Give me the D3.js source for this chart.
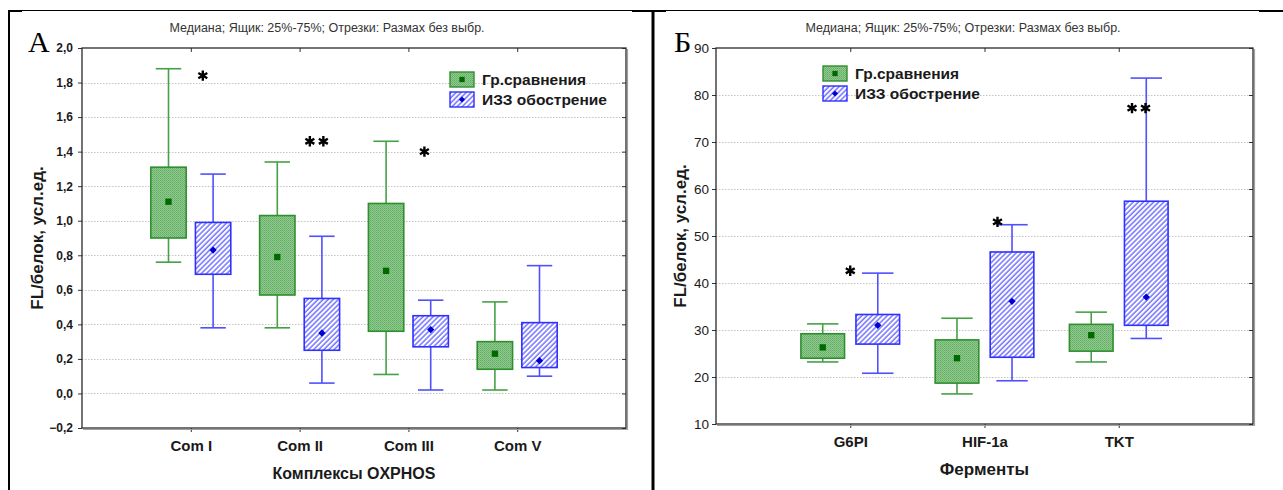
<!DOCTYPE html>
<html>
<head>
<meta charset="utf-8">
<script src="https://cdn.jsdelivr.net/npm/d3@7"></script>
<style>
  body { margin: 0; background: #fff; }
  svg { display: block; font-family: "Liberation Sans", Arial, sans-serif; }
  .grid line { stroke: #c4c4c4; stroke-dasharray: 1.5,1.5; }
  .ytick text { font-weight: bold; fill: #1a1a1a; }
  .xtick text { font-weight: bold; font-size: 15px; fill: #1a1a1a; }
  .tick line { stroke: #333; }
  .title { font-size: 12.5px; fill: #333; }
  .axis-title { font-weight: bold; fill: #1a1a1a; }
  .legend text { font-weight: bold; font-size: 15.5px; fill: #1a1a1a; }
  .letter { font-family: "Liberation Serif", "Times New Roman", serif; font-size: 30px; fill: #000; }
</style>
</head>
<body>
<script>
var width = 1283, height = 490;

var seriesNames = ["Гр.сравнения", "ИЗЗ обострение"];
var subtitle = "Медиана; Ящик: 25%-75%; Отрезки: Размах без выбр.";

// Panel A: OXPHOS complexes
var comCategories = ["Com I", "Com II", "Com III", "Com V"];
var comTicks = [-0.2, 0, 0.2, 0.4, 0.6, 0.8, 1.0, 1.2, 1.4, 1.6, 1.8, 2.0];
var comCtrlMin = [0.76, 0.38, 0.11, 0.02];
var comCtrlQ1 = [0.90, 0.57, 0.36, 0.14];
var comCtrlMed = [1.11, 0.79, 0.71, 0.23];
var comCtrlQ3 = [1.31, 1.03, 1.10, 0.30];
var comCtrlMax = [1.88, 1.34, 1.46, 0.53];
var comIzzMin = [0.38, 0.06, 0.02, 0.10];
var comIzzQ1 = [0.69, 0.25, 0.27, 0.15];
var comIzzMed = [0.83, 0.35, 0.37, 0.19];
var comIzzQ3 = [0.99, 0.55, 0.45, 0.41];
var comIzzMax = [1.27, 0.91, 0.54, 0.74];
var comStars = [1, 2, 1, 0];
var comStarValue = [1.84, 1.46, 1.40, null];

// Panel B: enzymes
var enzCategories = ["G6PI", "HIF-1a", "TKT"];
var enzTicks = [10, 20, 30, 40, 50, 60, 70, 80, 90];
var enzCtrlMin = [23.2, 16.4, 23.2];
var enzCtrlQ1 = [24.0, 18.7, 25.5];
var enzCtrlMed = [26.3, 24.0, 28.9];
var enzCtrlQ3 = [29.2, 27.9, 31.2];
var enzCtrlMax = [31.3, 32.5, 33.8];
var enzIzzMin = [20.8, 19.2, 28.2];
var enzIzzQ1 = [27.0, 24.2, 31.0];
var enzIzzMed = [31.0, 36.1, 37.0];
var enzIzzQ3 = [33.3, 46.6, 57.4];
var enzIzzMax = [42.1, 52.4, 83.6];
var enzStars = [1, 1, 2];
var enzStarValue = [42.6, 53.0, 77.2];

var svg = d3.select("body").append("svg").attr("width", width).attr("height", height);

// fills
var defs = svg.append("defs");
var gp = defs.append("pattern").attr("id", "stipple").attr("patternUnits", "userSpaceOnUse")
  .attr("width", 2).attr("height", 2);
gp.append("rect").attr("width", 2).attr("height", 2).attr("fill", "#8fcb8f");
gp.append("rect").attr("width", 1).attr("height", 1).attr("fill", "#64ac64");
gp.append("rect").attr("x", 1).attr("y", 1).attr("width", 1).attr("height", 1).attr("fill", "#72b572");
var bp = defs.append("pattern").attr("id", "hatch").attr("patternUnits", "userSpaceOnUse")
  .attr("width", 3.6).attr("height", 3.6).attr("patternTransform", "rotate(45)");
bp.append("rect").attr("width", 3.6).attr("height", 3.6).attr("fill", "#fff");
bp.append("line").attr("x1", 1).attr("x2", 1).attr("y1", 0).attr("y2", 3.6)
  .attr("stroke", "#4f4fff").attr("stroke-width", 1.2);

var styles = [
  { fill: "url(#stipple)", border: "#2f8f2f", whisker: "#46a046", mark: "#006a00", symbol: d3.symbolSquare, size: 40 },
  { fill: "url(#hatch)", border: "#3030ff", whisker: "#5050ff", mark: "#0000d0", symbol: d3.symbolDiamond2, size: 34 }
];

// table borders
svg.append("line").attr("x1", 8).attr("x2", 1260).attr("y1", 10.5).attr("y2", 10.5).attr("stroke", "#000");
[[8, 22], [632, 666], [1259, 1283]].forEach(function(s) {
  svg.append("line").attr("x1", s[0]).attr("x2", s[1]).attr("y1", 11).attr("y2", 11)
    .attr("stroke", "#000").attr("stroke-width", 2);
});
svg.append("line").attr("x1", 9).attr("x2", 9).attr("y1", 10).attr("y2", height).attr("stroke", "#000").attr("stroke-width", 2);
svg.append("line").attr("x1", 653).attr("x2", 653).attr("y1", 10).attr("y2", height).attr("stroke", "#000").attr("stroke-width", 3);

function drawPanel(p) {
  var g = svg.append("g");
  var x = d3.scalePoint().domain(p.categories).range([p.left, p.right]).padding(1);
  var y = d3.scaleLinear().domain([p.ticks[0], p.ticks[p.ticks.length - 1]]).range([p.bottom, p.top]);
  var step = x.step(), bw = step * 0.325, off = step * 0.205, cap = bw * 0.72;

  g.append("g").attr("class", "grid").selectAll("line").data(p.ticks.slice(1, -1)).join("line")
    .attr("x1", p.left).attr("x2", p.right)
    .attr("y1", function(d) { return Math.round(y(d)) + 0.5; })
    .attr("y2", function(d) { return Math.round(y(d)) + 0.5; });

  // axes
  g.append("g").attr("class", "ytick").attr("transform", "translate(" + p.left + ",0)")
    .call(d3.axisLeft(y).tickValues(p.ticks).tickFormat(p.format).tickSize(4).tickPadding(p.tickPad))
    .call(function(a) { a.select(".domain").remove(); })
    .selectAll("text").style("font-size", p.tickFont).style("font-weight", p.tickWeight);
  g.append("g").attr("transform", "translate(" + p.right + ",0)")
    .call(d3.axisRight(y).tickValues(p.ticks).tickFormat("").tickSize(-4))
    .call(function(a) { a.select(".domain").remove(); });
  g.append("g").attr("class", "xtick").attr("transform", "translate(0," + p.bottom + ")")
    .call(d3.axisBottom(x).tickSize(4).tickPadding(8))
    .call(function(a) { a.select(".domain").remove(); });
  g.append("g").attr("transform", "translate(0," + p.top + ")")
    .call(d3.axisTop(x).tickSize(-4).tickFormat(""))
    .call(function(a) { a.select(".domain").remove(); });

  // frame with shadow
  g.append("path").attr("d", "M" + (p.right + 1.5) + "," + (p.top + 1) + "V" + (p.bottom + 1.5) + "H" + (p.left + 1))
    .attr("fill", "none").attr("stroke", "#a0a0a0").attr("stroke-width", 1.2);
  g.append("rect").attr("x", p.left).attr("y", p.top).attr("width", p.right - p.left).attr("height", p.bottom - p.top)
    .attr("fill", "none").attr("stroke", "#2a2a2a").attr("stroke-width", 1.3);

  // boxes
  p.series.forEach(function(s, si) {
    var st = styles[si], dx = si === 0 ? -off : off;
    var rows = p.categories.map(function(c, i) {
      return { cx: x(c) + dx, min: s.min[i], q1: s.q1[i], med: s.med[i], q3: s.q3[i], max: s.max[i] };
    });
    var b = g.append("g").selectAll("g").data(rows).join("g");
    b.append("line").attr("x1", function(d) { return d.cx; }).attr("x2", function(d) { return d.cx; })
      .attr("y1", function(d) { return y(d.max); }).attr("y2", function(d) { return y(d.min); })
      .attr("stroke", st.whisker).attr("stroke-width", 1.6);
    ["max", "min"].forEach(function(k) {
      b.append("line").attr("x1", function(d) { return d.cx - cap / 2; }).attr("x2", function(d) { return d.cx + cap / 2; })
        .attr("y1", function(d) { return y(d[k]); }).attr("y2", function(d) { return y(d[k]); })
        .attr("stroke", st.whisker).attr("stroke-width", 1.6);
    });
    b.append("rect").attr("x", function(d) { return d.cx - bw / 2; }).attr("width", bw)
      .attr("y", function(d) { return y(d.q3); }).attr("height", function(d) { return y(d.q1) - y(d.q3); })
      .attr("fill", st.fill).attr("stroke", st.border).attr("stroke-width", 1.6);
    b.append("path").attr("d", d3.symbol(st.symbol, st.size))
      .attr("transform", function(d) { return "translate(" + d.cx + "," + y(d.med) + ")"; })
      .attr("fill", st.mark);
  });

  // significance marks
  var starPts = [];
  p.categories.forEach(function(c, i) {
    for (var k = 0; k < p.stars[i]; k++) {
      var sx = x(c) + p.starShift[i] + (k - (p.stars[i] - 1) / 2) * 13.5;
      starPts.push([sx, y(p.starValue[i])]);
    }
  });
  g.append("g").selectAll("path").data(starPts).join("path")
    .attr("d", d3.symbol(d3.symbolAsterisk, 75))
    .attr("transform", function(d) { return "translate(" + d[0] + "," + d[1] + ")"; })
    .attr("fill", "none").attr("stroke", "#000").attr("stroke-width", 2.4);

  // titles
  g.append("text").attr("class", "title").attr("x", p.titleX).attr("y", 32).attr("text-anchor", "middle").text(subtitle);
  g.append("text").attr("class", "letter").attr("x", p.letterX).attr("y", 52).text(p.letter);
  g.append("text").attr("class", "axis-title").style("font-size", "17px")
    .attr("transform", "translate(" + p.yTitleX + "," + ((p.top + p.bottom) / 2) + ") rotate(-90)")
    .attr("text-anchor", "middle").text("FL/белок, усл.ед.");
  g.append("text").attr("class", "axis-title").style("font-size", p.xTitleFont)
    .attr("x", (p.left + p.right) / 2).attr("y", p.xTitleY).attr("text-anchor", "middle").text(p.xTitle);

  // legend
  var lg = g.append("g").attr("class", "legend").attr("transform", "translate(" + p.legendX + "," + p.legendY + ")");
  seriesNames.forEach(function(name, i) {
    var st = styles[i], row = lg.append("g").attr("transform", "translate(0," + i * p.legendGap + ")");
    row.append("rect").attr("width", 24).attr("height", 15).attr("fill", st.fill)
      .attr("stroke", st.border).attr("stroke-width", 1.4);
    row.append("path").attr("d", d3.symbol(st.symbol, st.size * 0.7)).attr("transform", "translate(12,7.5)").attr("fill", st.mark);
    row.append("text").attr("x", 32).attr("y", 13).text(name);
  });
}

drawPanel({
  letter: "А", letterX: 28, titleX: 327,
  categories: comCategories, ticks: comTicks, format: d3.format(".1f"),
  left: 82, right: 626, top: 48, bottom: 428,
  tickFont: "12px", tickWeight: "bold", tickPad: 5,
  series: [
    { min: comCtrlMin, q1: comCtrlQ1, med: comCtrlMed, q3: comCtrlQ3, max: comCtrlMax },
    { min: comIzzMin, q1: comIzzQ1, med: comIzzMed, q3: comIzzQ3, max: comIzzMax }
  ],
  stars: comStars, starValue: comStarValue, starShift: [12, 17, 16, 0],
  yTitleX: 43, xTitle: "Комплексы OXPHOS", xTitleY: 479, xTitleFont: "16px",
  legendX: 450, legendY: 72, legendGap: 20
});

drawPanel({
  letter: "Б", letterX: 674, titleX: 963,
  categories: enzCategories, ticks: enzTicks, format: d3.format("d"),
  left: 716, right: 1253, top: 48, bottom: 424,
  tickFont: "13.5px", tickWeight: "normal", tickPad: 3,
  series: [
    { min: enzCtrlMin, q1: enzCtrlQ1, med: enzCtrlMed, q3: enzCtrlQ3, max: enzCtrlMax },
    { min: enzIzzMin, q1: enzIzzQ1, med: enzIzzMed, q3: enzIzzQ3, max: enzIzzMax }
  ],
  stars: enzStars, starValue: enzStarValue, starShift: [0, 13, 20],
  yTitleX: 686, xTitle: "Ферменты", xTitleY: 475, xTitleFont: "17px",
  legendX: 823, legendY: 66, legendGap: 20
});

// comma decimal separator on panel A
svg.selectAll(".ytick text").text(function() { return this.textContent.replace(".", ","); });
</script>
</body>
</html>
